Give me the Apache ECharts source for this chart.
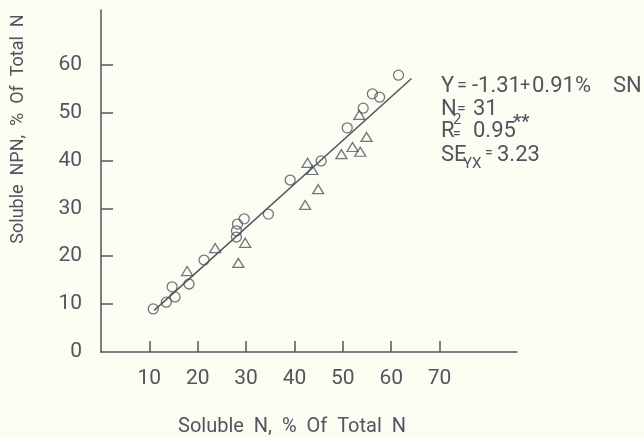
<!DOCTYPE html>
<html>
<head>
<meta charset="utf-8">
<script src="https://cdn.jsdelivr.net/npm/echarts@6/dist/echarts.min.js"></script>
<style>
html,body{margin:0;padding:0;background:#fcfcf3;}
#c{width:644px;height:438px;}
</style>
</head>
<body>
<div id="c"></div>
<script>
// Data
var circleX = [10.8, 13.5, 15.3, 14.7, 18.2, 21.3, 28.0, 28.0, 28.2, 29.6, 34.6, 39.1, 45.5, 50.9, 54.2, 56.1, 57.6, 61.5];
var circleY = [9.0, 10.4, 11.5, 13.6, 14.2, 19.2, 24.0, 25.3, 26.7, 27.8, 28.8, 35.9, 39.9, 46.8, 50.9, 53.9, 53.2, 57.8];
var triX = [17.8, 23.6, 29.8, 28.4, 42.2, 42.7, 43.7, 44.9, 49.7, 52.0, 53.6, 54.9, 53.4];
var triY = [16.9, 21.7, 22.8, 18.6, 30.7, 39.5, 38.0, 34.0, 41.3, 42.8, 41.8, 44.9, 49.5];
var fitX = [11.0, 64.2];
var fitY = [8.7, 57.1];
var xTicks = [10, 20, 30, 40, 50, 60, 70];
var yTicks = [0, 10, 20, 30, 40, 50, 60];
var xTitle = 'Soluble  N,  %  Of  Total  N';
var yTitle = 'Soluble  NPN,  %  Of  Total  N';

var ink = '#4e565e';
var font = 'Roboto';

function pairs(xs, ys){ return xs.map(function(v,i){ return [v, ys[i]]; }); }
function txt(x, y, s, size, extra){
  return {type: 'text', x: x, y: y, style: {text: s, fill: ink, font: (extra || '') + size + 'px ' + font, textVerticalAlign: 'middle'}};
}

var chart = echarts.init(document.getElementById('c'));
chart.setOption({
  backgroundColor: '#fcfcf3',
  animation: false,
  grid: {left: 101, top: 10, right: 127, bottom: 86},
  xAxis: {
    type: 'value', min: 0, max: 86, interval: 10,
    splitLine: {show: false},
    axisLine: {lineStyle: {color: ink, width: 1.5}},
    axisTick: {inside: true, length: 11, customValues: xTicks, lineStyle: {color: ink, width: 1.5}},
    axisLabel: {customValues: xTicks, margin: 16, color: ink, fontFamily: font, fontSize: 21}
  },
  yAxis: {
    type: 'value', min: 0, max: 71.4, interval: 10,
    splitLine: {show: false},
    axisLine: {lineStyle: {color: ink, width: 1.5}},
    axisTick: {inside: true, length: 12, customValues: yTicks.slice(1), lineStyle: {color: ink, width: 1.5}},
    axisLabel: {customValues: yTicks, margin: 19, color: ink, fontFamily: font, fontSize: 21}
  },
  series: [
    {
      type: 'line', data: pairs(fitX, fitY), symbol: 'none',
      lineStyle: {color: ink, width: 1.5}, z: 1
    },
    {
      type: 'scatter', data: pairs(circleX, circleY), symbol: 'circle', symbolSize: 10,
      itemStyle: {color: 'rgba(0,0,0,0)', borderColor: ink, borderWidth: 1.3}, z: 2
    },
    {
      type: 'scatter', data: pairs(triX, triY), symbol: 'triangle', symbolSize: [11, 9],
      itemStyle: {color: 'rgba(0,0,0,0)', borderColor: ink, borderWidth: 1.3}, z: 2
    }
  ],
  graphic: [
    {type: 'text', x: 18, y: 129, rotation: Math.PI/2,
     style: {text: yTitle, fill: ink, font: '18px ' + font, textAlign: 'center', textVerticalAlign: 'middle'}},
    {type: 'text', x: 292, y: 427,
     style: {text: xTitle, fill: ink, font: '20px ' + font, textAlign: 'center', textVerticalAlign: 'middle'}},
    txt(441, 86, 'Y', 22), txt(457, 86, '=', 18), txt(472, 86, '-1.31', 22), txt(520, 86, '+', 18), txt(532, 86, '0.91%', 22), txt(613, 86, 'SN', 22),
    txt(441, 109, 'N', 22), txt(457, 110, '=', 16), txt(473, 109, '31', 22),
    txt(441, 131, 'R', 22), txt(453, 120, '2', 15), txt(453, 134, '=', 14), txt(473, 131, '0.95', 22), txt(513, 122, '**', 18, 'bold '),
    txt(441, 155, 'SE', 22), txt(463, 164, 'YX', 15), txt(485, 153, '=', 14), txt(497, 155, '3.23', 22)
  ]
});
</script>
</body>
</html>
